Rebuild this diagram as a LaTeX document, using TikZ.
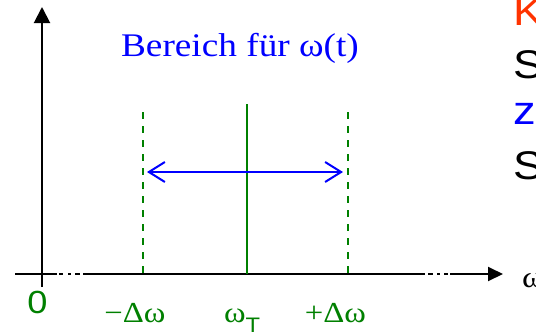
\documentclass[tikz,border=0pt]{standalone}
\usepackage{fontspec}
\setmainfont{Liberation Serif}[FakeStretch=1.13]
\newfontfamily\serif{Liberation Serif}[FakeStretch=1.13]
\newfontfamily\arialf{Liberation Sans}[FakeStretch=1.13]
\usetikzlibrary{arrows.meta}
\definecolor{dgreen}{RGB}{0,128,0}
\definecolor{kred}{RGB}{255,51,0}
\definecolor{bblue}{RGB}{0,0,255}
\tikzset{
  txt/.style={inner sep=0pt, outer sep=0pt},
  axisline/.style={line width=2pt, black},
  gline/.style={line width=2pt, dgreen},
  gdash/.style={line width=2pt, dgreen, dash pattern=on 7pt off 7pt},
  lbl/.style={txt, anchor=base, text=dgreen, font=\serif\fontsize{29}{29}\selectfont},
  rtxt/.style={txt, anchor=base west, font=\arialf\fontsize{40}{40}\selectfont},
}
\begin{document}
\begin{tikzpicture}[x=1pt,y=-1pt]
\useasboundingbox[fill=white] (0,0) rectangle (536,333);
% y axis
\coordinate (yb) at (42,287);
\coordinate (yt) at (42,7);
\draw[axisline, -{Triangle[length=16pt,width=16pt]}] (yb) -- (yt);
% x axis pieces
\coordinate (x0) at (15,274);
\coordinate (x1) at (57,274);
\coordinate (x2) at (83,274);
\coordinate (x3) at (425,274);
\coordinate (x4) at (450,274);
\coordinate (x5) at (503,274);
\draw[axisline] (x0) -- (x1);
\draw[axisline, dash pattern=on 0pt off 2pt on 4pt off 5pt on 3pt off 4pt on 5pt off 3pt] (x1) -- (x2);
\draw[axisline] (x2) -- (x3);
\draw[axisline, dash pattern=on 0pt off 3pt on 5pt off 4pt on 3pt off 4pt on 4pt off 2pt] (x3) -- (x4);
\draw[axisline, -{Triangle[length=15pt,width=14pt]}] (x4) -- (x5);
% green lines
\coordinate (dlt) at (143,112);
\coordinate (dlb) at (143,274);
\coordinate (drt) at (348,112);
\coordinate (drb) at (348,274);
\coordinate (st) at (247,104);
\coordinate (sb) at (247,274);
\draw[gdash] (dlt) -- (dlb);
\draw[gdash] (drt) -- (drb);
\draw[gline] (st) -- (sb);
% blue double arrow
\coordinate (bl) at (147,172);
\coordinate (br) at (343,172);
\draw[line width=2pt, bblue, {Straight Barb[length=16pt,width=20pt]}-{Straight Barb[length=16pt,width=20pt]}] (bl) -- (br);
% title
\node[txt, anchor=base, text=bblue, font=\serif\fontsize{33}{33}\selectfont] (title) at (240,56) {Bereich für ω(t)};
% labels
\node[txt, anchor=base, text=dgreen, font=\arialf\fontsize{32}{32}\selectfont] (zero) at (37.5,313) {0};
\node[lbl] (minus) at (135,322) {−Δω};
\node[lbl, anchor=base west] (wt) at (224,322) {ω\raisebox{-10pt}{\arialf\fontsize{21}{21}\selectfont T}};
\node[lbl] (plus) at (335.5,322) {+Δω};
\node[txt, anchor=base west, font=\serif\fontsize{30}{30}\selectfont] (omega) at (522,287) {ω};
% right text
\node[rtxt, text=kred] (k) at (513,25) {K};
\node[rtxt, text=black] (s1) at (513,78) {S};
\node[rtxt, text=bblue] (z) at (513,124) {z};
\node[rtxt, text=black] (s2) at (513,179) {S};
\end{tikzpicture}
\end{document}
